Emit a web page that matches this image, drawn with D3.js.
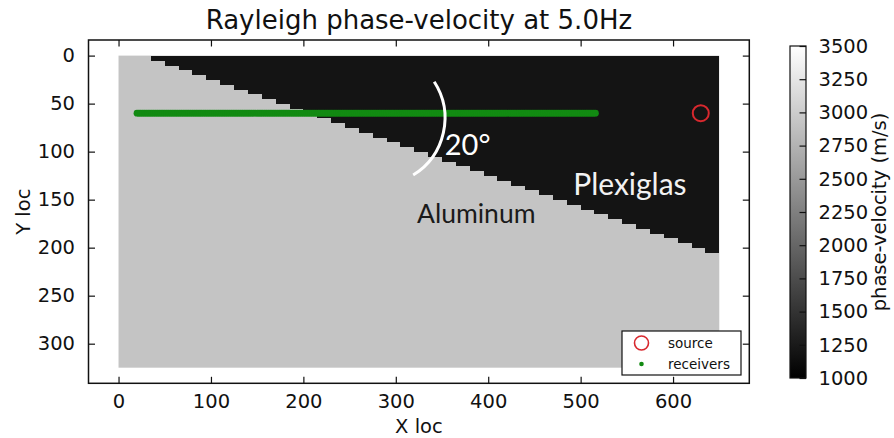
<!DOCTYPE html>
<html>
<head>
<meta charset="utf-8">
<script src="https://cdn.jsdelivr.net/npm/d3@7"></script>
<style>
  html, body { margin: 0; padding: 0; background: #fff; }
  svg { display: block; }
  text { font-family: "DejaVu Sans", sans-serif; fill: #111; }
</style>
</head>
<body>
<svg id="chart" width="894" height="438"></svg>
<script>
// ---- model description -------------------------------------------------
const title = "Rayleigh phase-velocity at 5.0Hz";
const gridExtentX = [0, 650];          // model extent along X loc
const gridExtentY = [0, 325];          // model extent along Y loc
const cellSize = 5;                    // grid cell size
const velocityAluminum = 2920;         // m/s
const velocityPlexiglas = 1200;        // m/s
// Plexiglas occupies, in each 5-unit row from the top, the cells from this X to the right edge
const plexiRowStartX = [35, 50, 65, 80, 95, 110, 125, 140, 155, 170, 185, 200, 215, 230,
  245, 260, 275, 290, 305, 320, 335, 350, 365, 380, 395, 410, 425, 440, 455, 470,
  485, 500, 515, 530, 545, 560, 575, 590, 605, 620, 635];

// acquisition geometry
const receiverStartX = 20, receiverEndX = 516, receiverSpacing = 2, receiverY = 60;
const sourceXY = [630, 60];

// axis ticks
const xTicks = [0, 100, 200, 300, 400, 500, 600];
const yTicks = [0, 50, 100, 150, 200, 250, 300];
const cbarDomain = [1000, 3500];
const cbarTicks = [1000, 1250, 1500, 1750, 2000, 2250, 2500, 2750, 3000, 3250, 3500];

// angle annotation: arc through three points (data coords) and its label
const arcPoints = [[341.6, 27.2], [353.1, 68.9], [318.8, 124.4]];
const angleLabel = "20°";
const regionLabels = [
  { text: "Plexiglas", x: 492, y: 145, size: 30 },
  { text: "Aluminum", x: 323, y: 174, size: 26.5 }
];

// ---- layout -----------------------------------------------------------
const svg = d3.select("#chart");
const frame = { left: 88.5, right: 749.3, top: 40, bottom: 383.3 };
const xPad = (gridExtentX[1] - gridExtentX[0]) * 0.05;
const yPad = (gridExtentY[1] - gridExtentY[0]) * 0.05;
const x = d3.scaleLinear().domain([gridExtentX[0] - xPad, gridExtentX[1] + xPad]).range([frame.left, frame.right]);
const y = d3.scaleLinear().domain([gridExtentY[0] - yPad, gridExtentY[1] + yPad]).range([frame.top, frame.bottom]);
const gray = d3.scaleLinear().domain(cbarDomain).range(["#000000", "#ffffff"]).clamp(true);

const tickLen = 6.5;
const fontTick = 19.5;

// ---- velocity model ----------------------------------------------------
const plot = svg.append("g");
plot.append("rect")
  .attr("x", x(gridExtentX[0])).attr("y", y(gridExtentY[0]))
  .attr("width", x(gridExtentX[1]) - x(gridExtentX[0]))
  .attr("height", y(gridExtentY[1]) - y(gridExtentY[0]))
  .attr("fill", gray(velocityAluminum));

plot.selectAll("rect.plexi").data(plexiRowStartX).join("rect")
  .attr("class", "plexi")
  .attr("x", d => x(d))
  .attr("y", (d, i) => y(i * cellSize))
  .attr("width", d => x(gridExtentX[1]) - x(d))
  .attr("height", y(cellSize) - y(0) + 0.4)
  .attr("fill", gray(velocityPlexiglas))
  .attr("shape-rendering", "crispEdges");

// ---- receivers ----------------------------------------------------------
const receivers = d3.range(receiverStartX, receiverEndX + 0.1, receiverSpacing);
plot.selectAll("circle.rcv").data(receivers).join("circle")
  .attr("class", "rcv")
  .attr("cx", d => x(d)).attr("cy", y(receiverY))
  .attr("r", 3.4).attr("fill", "#128a12");

// ---- source -------------------------------------------------------------
plot.append("circle")
  .attr("cx", x(sourceXY[0])).attr("cy", y(sourceXY[1]))
  .attr("r", 8).attr("fill", "none")
  .attr("stroke", "#d8282e").attr("stroke-width", 2);

// ---- angle arc ----------------------------------------------------------
function circumcircle(p1, p2, p3) {
  const [ax, ay] = p1, [bx, by] = p2, [cx, cy] = p3;
  const dd = 2 * (ax * (by - cy) + bx * (cy - ay) + cx * (ay - by));
  const ux = ((ax * ax + ay * ay) * (by - cy) + (bx * bx + by * by) * (cy - ay) + (cx * cx + cy * cy) * (ay - by)) / dd;
  const uy = ((ax * ax + ay * ay) * (cx - bx) + (bx * bx + by * by) * (ax - cx) + (cx * cx + cy * cy) * (bx - ax)) / dd;
  return { cx: ux, cy: uy, r: Math.hypot(ax - ux, ay - uy) };
}
const ap = arcPoints.map(p => [x(p[0]), y(p[1])]);
const cc = circumcircle(ap[0], ap[1], ap[2]);
plot.append("path")
  .attr("d", `M${ap[0][0]},${ap[0][1]} A${cc.r},${cc.r} 0 0 1 ${ap[2][0]},${ap[2][1]}`)
  .attr("fill", "none").attr("stroke", "#ffffff").attr("stroke-width", 3);

plot.append("text")
  .attr("x", x(353)).attr("y", y(104))
  .style("font-family", "Lato, 'Open Sans', sans-serif")
  .style("font-size", "29px").style("fill", "#ffffff")
  .text(angleLabel);

plot.selectAll("text.region").data(regionLabels).join("text")
  .attr("class", "region")
  .attr("x", d => x(d.x)).attr("y", d => y(d.y))
  .style("font-family", "Lato, 'Open Sans', sans-serif")
  .style("font-size", d => d.size + "px")
  .style("fill", (d, i) => i === 0 ? "#f2f2f2" : "#1a1a1a")
  .text(d => d.text);

// ---- axes frame + ticks -------------------------------------------------
const axes = svg.append("g");
axes.append("rect")
  .attr("x", frame.left).attr("y", frame.top)
  .attr("width", frame.right - frame.left).attr("height", frame.bottom - frame.top)
  .attr("fill", "none").attr("stroke", "#111").attr("stroke-width", 1.5);

const xAxisBottom = d3.axisBottom(x).tickValues(xTicks).tickSizeInner(-tickLen).tickSizeOuter(0).tickPadding(tickLen + 4);
const xAxisTop = d3.axisTop(x).tickValues(xTicks).tickSizeInner(-tickLen).tickSizeOuter(0).tickFormat("");
const yAxisLeft = d3.axisLeft(y).tickValues(yTicks).tickSizeInner(-tickLen).tickSizeOuter(0).tickPadding(tickLen + 7);
const yAxisRight = d3.axisRight(y).tickValues(yTicks).tickSizeInner(-tickLen).tickSizeOuter(0).tickFormat("");

function styleAxis(g) {
  g.select(".domain").remove();
  g.selectAll(".tick line").attr("stroke", "#111").attr("stroke-width", 1.2);
  g.selectAll(".tick text").style("font-family", "'DejaVu Sans', sans-serif")
    .style("font-size", fontTick + "px").attr("fill", "#111");
}
axes.append("g").attr("transform", `translate(0,${frame.bottom})`).call(xAxisBottom).call(styleAxis);
axes.append("g").attr("transform", `translate(0,${frame.top})`).call(xAxisTop).call(styleAxis);
axes.append("g").attr("transform", `translate(${frame.left},0)`).call(yAxisLeft).call(styleAxis);
axes.append("g").attr("transform", `translate(${frame.right},0)`).call(yAxisRight).call(styleAxis);

// axis labels and title
svg.append("text")
  .attr("x", (frame.left + frame.right) / 2).attr("y", 433)
  .attr("text-anchor", "middle").style("font-size", fontTick + "px")
  .text("X loc");
svg.append("text")
  .attr("transform", `translate(30,${(frame.top + frame.bottom) / 2}) rotate(-90)`)
  .attr("text-anchor", "middle").style("font-size", fontTick + "px")
  .text("Y loc");
svg.append("text")
  .attr("x", (frame.left + frame.right) / 2).attr("y", 29)
  .attr("text-anchor", "middle").style("font-size", "26px")
  .text(title);

// ---- legend -------------------------------------------------------------
const legend = svg.append("g").attr("transform", "translate(622,331)");
legend.append("rect").attr("width", 119).attr("height", 44)
  .attr("fill", "#fff").attr("stroke", "#111").attr("stroke-width", 1.2);
legend.append("circle").attr("cx", 19.5).attr("cy", 12).attr("r", 7)
  .attr("fill", "none").attr("stroke", "#d8282e").attr("stroke-width", 1.6);
legend.append("circle").attr("cx", 19.5).attr("cy", 33).attr("r", 2.3).attr("fill", "#128a12");
legend.append("text").attr("x", 46).attr("y", 12).attr("dy", "0.35em")
  .style("font-size", "13.5px").text("source");
legend.append("text").attr("x", 46).attr("y", 33).attr("dy", "0.35em")
  .style("font-size", "13.5px").text("receivers");

// ---- colorbar -----------------------------------------------------------
const cb = { left: 790, width: 16, top: 46, bottom: 378 };
const cy = d3.scaleLinear().domain(cbarDomain).range([cb.bottom, cb.top]);
const defs = svg.append("defs");
const grad = defs.append("linearGradient").attr("id", "cbarGrad")
  .attr("x1", 0).attr("y1", 1).attr("x2", 0).attr("y2", 0);
grad.append("stop").attr("offset", 0).attr("stop-color", gray(cbarDomain[0]));
grad.append("stop").attr("offset", 1).attr("stop-color", gray(cbarDomain[1]));
svg.append("rect")
  .attr("x", cb.left).attr("y", cb.top).attr("width", cb.width).attr("height", cb.bottom - cb.top)
  .attr("fill", "url(#cbarGrad)").attr("stroke", "#111").attr("stroke-width", 1.2);

const cbAxis = d3.axisRight(cy).tickValues(cbarTicks).tickFormat(d3.format("d"))
  .tickSizeInner(-tickLen).tickSizeOuter(0).tickPadding(tickLen + 6);
svg.append("g").attr("transform", `translate(${cb.left + cb.width},0)`).call(cbAxis).call(styleAxis);

svg.append("text")
  .attr("transform", `translate(886,${(cb.top + cb.bottom) / 2}) rotate(-90)`)
  .attr("text-anchor", "middle").style("font-size", fontTick + "px")
  .text("phase-velocity (m/s)");
</script>
</body>
</html>
